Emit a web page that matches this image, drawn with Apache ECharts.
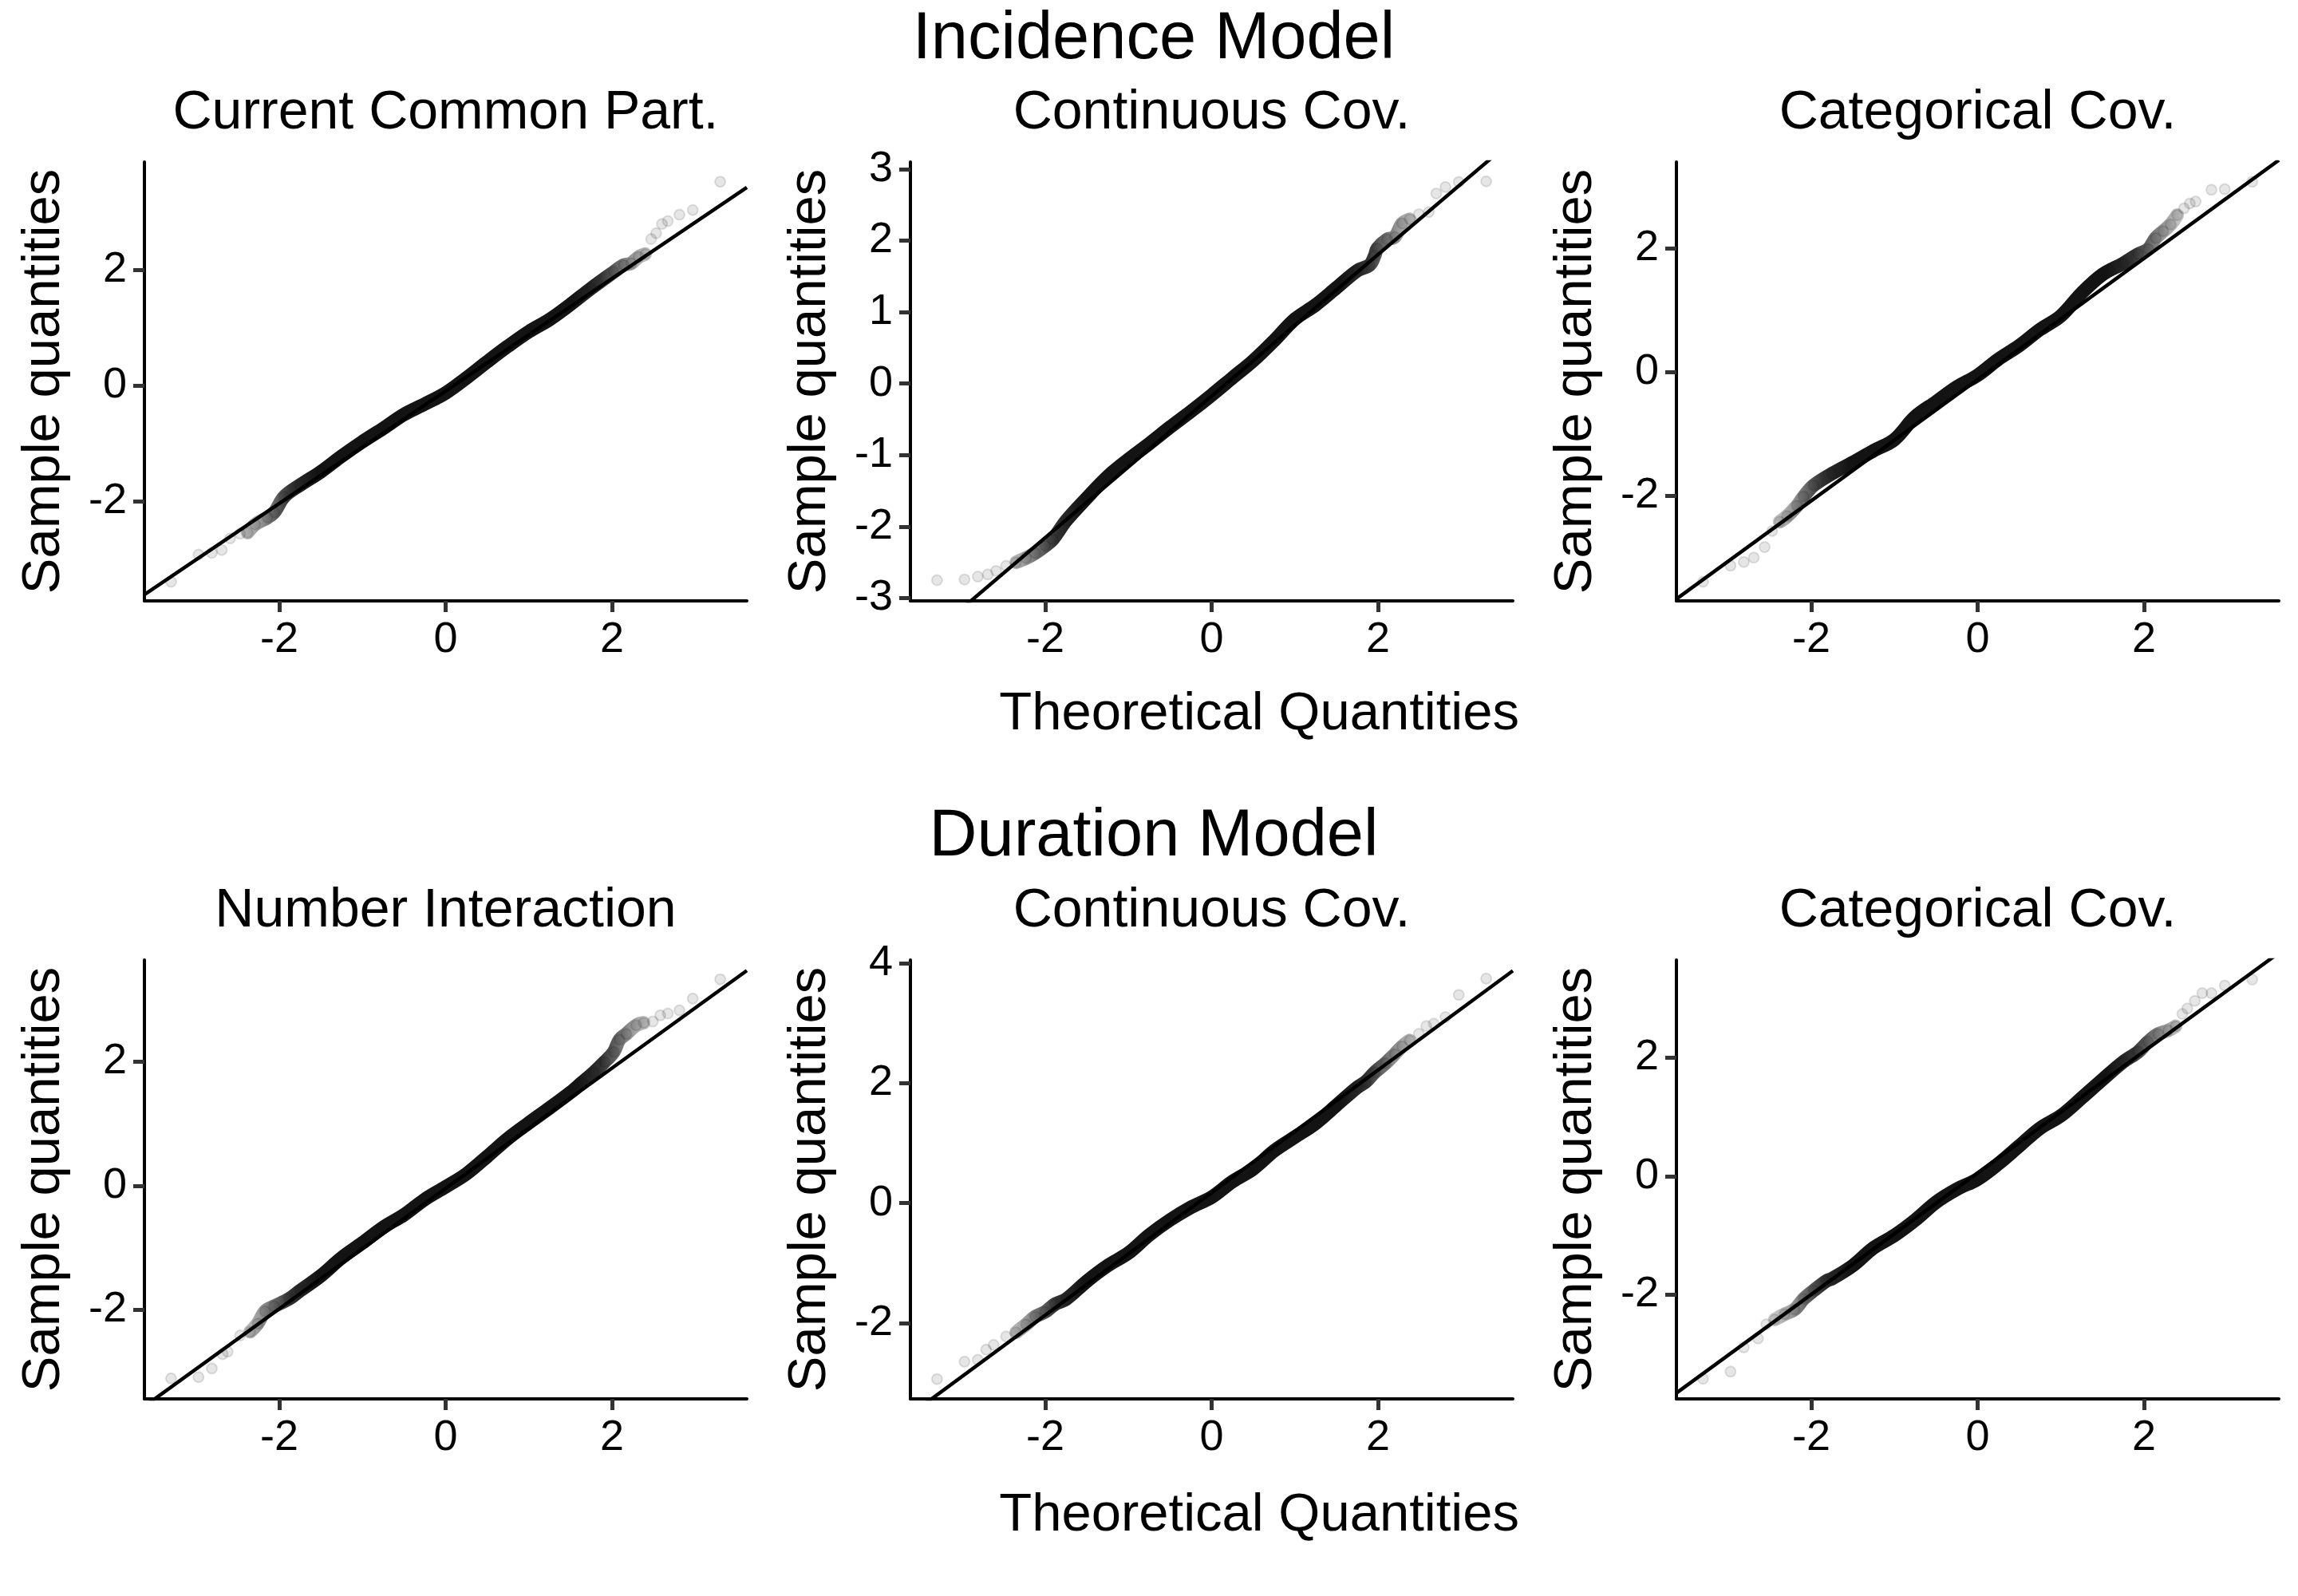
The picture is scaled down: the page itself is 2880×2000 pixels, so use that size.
<!DOCTYPE html>
<html>
<head>
<meta charset="utf-8">
<script src="https://cdn.jsdelivr.net/npm/echarts@6/dist/echarts.min.js"></script>
<style>
html,body{margin:0;padding:0;background:#fff;}
#chart{width:2880px;height:2000px;}
</style>
</head>
<body>
<div id="chart"></div>
<script>
// ---------- data ----------
const mainTitles = ['Incidence Model', 'Duration Model'];
const panelTitles = ['Current Common Part.', 'Continuous Cov.', 'Categorical Cov.',
                     'Number Interaction', 'Continuous Cov.', 'Categorical Cov.'];
const xTitle = 'Theoretical Quantities';
const yTitle = 'Sample quantities';
const xRange = [-3.62, 3.62];
const xTicks = [-2, 0, 2];

// Panel 1: Incidence / Current Common Part.
const p1x = [-3.30,-2.97,-2.81,-2.69,-2.59,-2.47,-2.38,-2.29,-2.14,-2.06,-1.94,-1.75,-1.5,-1.25,-1,-0.75,-0.5,-0.25,0,0.25,0.5,0.75,1,1.25,1.5,1.75,2.02,2.14,2.23,2.32,2.40,2.47,2.53,2.60,2.67,2.81,2.97,3.30];
const p1y = [-3.39,-2.92,-2.89,-2.84,-2.64,-2.56,-2.54,-2.40,-2.28,-2.19,-1.92,-1.72,-1.49,-1.22,-0.97,-0.74,-0.50,-0.32,-0.13,0.13,0.41,0.68,0.93,1.14,1.40,1.68,1.96,2.08,2.11,2.22,2.27,2.53,2.63,2.79,2.84,2.95,3.03,3.52];
const p1Line = [[-3.62,-3.61],[3.62,3.42]];
const p1YRange = [-3.72, 3.86];
const p1YTicks = [-2, 0, 2];

// Panel 2: Incidence / Continuous Cov.
const p2x = [-3.30,-2.97,-2.81,-2.69,-2.59,-2.47,-2.35,-2.23,-2.12,-2.0,-1.91,-1.75,-1.5,-1.25,-1,-0.75,-0.5,-0.25,0,0.25,0.5,0.75,1,1.25,1.5,1.75,1.90,1.96,1.99,2.11,2.20,2.29,2.38,2.49,2.61,2.70,2.81,2.97,3.30];
const p2y = [-2.75,-2.74,-2.70,-2.67,-2.62,-2.55,-2.50,-2.44,-2.37,-2.27,-2.18,-1.92,-1.60,-1.30,-1.06,-0.84,-0.61,-0.39,-0.16,0.08,0.32,0.60,0.90,1.10,1.34,1.58,1.66,1.79,1.89,2.02,2.05,2.24,2.30,2.37,2.40,2.66,2.75,2.82,2.83];
const p2Line = [[-3.62,-3.76],[3.62,3.41]];
const p2YRange = [-3.04, 3.10];
const p2YTicks = [-3, -2, -1, 0, 1, 2, 3];

// Panel 3: Incidence / Categorical Cov.
const p3x = [-3.30,-2.97,-2.81,-2.69,-2.56,-2.47,-2.38,-2.29,-2.17,-2.09,-1.97,-1.75,-1.5,-1.25,-1,-0.75,-0.5,-0.25,0,0.25,0.5,0.75,1,1.25,1.5,1.75,1.93,2.05,2.14,2.23,2.32,2.40,2.48,2.55,2.62,2.81,2.97,3.30];
const p3y = [-3.39,-3.13,-3.07,-3.00,-2.83,-2.57,-2.42,-2.33,-2.16,-2.01,-1.83,-1.64,-1.46,-1.27,-1.09,-0.72,-0.48,-0.24,-0.05,0.21,0.43,0.69,0.91,1.28,1.58,1.76,1.91,1.99,2.17,2.28,2.39,2.54,2.65,2.73,2.76,2.95,2.96,3.08];
const p3Line = [[-3.62,-3.67],[3.62,3.43]];
const p3YRange = [-3.70, 3.40];
const p3YTicks = [-2, 0, 2];

// Panel 4: Duration / Number Interaction
const p4x = [-3.30,-2.97,-2.81,-2.68,-2.62,-2.47,-2.35,-2.26,-2.17,-2.06,-1.88,-1.75,-1.5,-1.25,-1,-0.75,-0.5,-0.25,0,0.25,0.5,0.75,1,1.25,1.5,1.64,1.78,1.91,2.02,2.09,2.17,2.29,2.38,2.49,2.58,2.67,2.81,2.97,3.30];
const p4y = [-3.10,-3.08,-2.94,-2.71,-2.67,-2.41,-2.35,-2.22,-2.02,-1.94,-1.82,-1.69,-1.45,-1.16,-0.92,-0.67,-0.47,-0.22,-0.02,0.19,0.47,0.76,1.01,1.25,1.50,1.66,1.82,1.99,2.15,2.35,2.44,2.58,2.62,2.64,2.74,2.77,2.82,3.01,3.32];
const p4Line = [[-3.62,-3.55],[3.62,3.46]];
const p4YRange = [-3.43, 3.63];
const p4YTicks = [-2, 0, 2];

// Panel 5: Duration / Continuous Cov.
const p5x = [-3.30,-2.97,-2.81,-2.71,-2.62,-2.47,-2.35,-2.23,-2.12,-2.0,-1.88,-1.75,-1.5,-1.25,-1,-0.75,-0.5,-0.25,0,0.25,0.5,0.75,1,1.25,1.5,1.75,1.85,1.96,2.09,2.20,2.29,2.38,2.49,2.58,2.67,2.81,2.97,3.30];
const p5y = [-2.93,-2.64,-2.61,-2.44,-2.36,-2.22,-2.15,-2.02,-1.89,-1.81,-1.68,-1.60,-1.30,-1.04,-0.83,-0.53,-0.28,-0.07,0.10,0.36,0.57,0.87,1.10,1.33,1.63,1.93,2.02,2.18,2.33,2.48,2.61,2.71,2.82,2.95,2.99,3.10,3.47,3.74];
const p5Line = [[-3.62,-3.52],[3.62,3.87]];
const p5YRange = [-3.26, 4.05];
const p5YTicks = [-2, 0, 2, 4];

// Panel 6: Duration / Categorical Cov.
const p6x = [-3.30,-2.97,-2.81,-2.64,-2.54,-2.44,-2.32,-2.20,-2.09,-1.97,-1.82,-1.75,-1.5,-1.25,-1,-0.75,-0.5,-0.25,0,0.25,0.5,0.75,1,1.25,1.5,1.75,1.93,2.05,2.17,2.29,2.38,2.46,2.52,2.61,2.70,2.81,2.97,3.30];
const p6y = [-3.42,-3.30,-2.89,-2.74,-2.50,-2.42,-2.33,-2.25,-2.07,-1.93,-1.77,-1.73,-1.51,-1.21,-1.00,-0.74,-0.44,-0.22,-0.05,0.21,0.51,0.81,1.02,1.32,1.63,1.93,2.10,2.27,2.40,2.46,2.53,2.74,2.83,2.96,3.09,3.09,3.22,3.32];
const p6Line = [[-3.62,-3.66],[3.62,3.77]];
const p6YRange = [-3.76, 3.65];
const p6YTicks = [-2, 0, 2];

// ---------- layout / style ----------
const FONT = '"Liberation Sans", Arial, Helvetica, sans-serif';
const colLeft = [181, 1141, 2101];
const rowTop = [203, 1203];
const gridW = 755, gridH = 550;

const panels = [
  {x:p1x, y:p1y, line:p1Line, yr:p1YRange, yt:p1YTicks},
  {x:p2x, y:p2y, line:p2Line, yr:p2YRange, yt:p2YTicks},
  {x:p3x, y:p3y, line:p3Line, yr:p3YRange, yt:p3YTicks},
  {x:p4x, y:p4y, line:p4Line, yr:p4YRange, yt:p4YTicks},
  {x:p5x, y:p5y, line:p5Line, yr:p5YRange, yt:p5YTicks},
  {x:p6x, y:p6y, line:p6Line, yr:p6YRange, yt:p6YTicks}
];

// darkness of the overlapping-points band (style only)
const bandLimit = 2.45;
const alphaStops = [[2.45,0.14],[2.2,0.38],[2.0,0.62],[1.8,0.85],[1.5,0.97]];
function bandAlpha(x){
  const a = Math.abs(x);
  if (a >= alphaStops[0][0]) return alphaStops[0][1];
  for (let i = 0; i < alphaStops.length - 1; i++) {
    const [x0,a0] = alphaStops[i], [x1,a1] = alphaStops[i+1];
    if (a <= x0 && a >= x1) return a0 + (a1 - a0) * (x0 - a) / (x0 - x1);
  }
  return alphaStops[alphaStops.length-1][1];
}

const grids = [], xAxes = [], yAxes = [], series = [], graphics = [];

panels.forEach((p, i) => {
  const row = Math.floor(i / 3), col = i % 3;
  grids.push({left: colLeft[col], top: rowTop[row], width: gridW, height: gridH, containLabel: false});
  xAxes.push({
    gridIndex: i, type: 'value', min: xRange[0], max: xRange[1],
    splitLine: {show: false},
    axisLine: {show: true, onZero: false, lineStyle: {color: '#000', width: 4}},
    axisTick: {show: true, length: 14, customValues: xTicks, lineStyle: {color: '#333', width: 5}},
    axisLabel: {show: true, customValues: xTicks, fontSize: 54, color: '#000', fontFamily: FONT, margin: 22}
  });
  yAxes.push({
    gridIndex: i, type: 'value', min: p.yr[0], max: p.yr[1],
    name: yTitle, nameLocation: 'middle', nameRotate: 90, nameGap: 92,
    nameTextStyle: {fontSize: 67, color: '#000', fontFamily: FONT},
    splitLine: {show: false},
    axisLine: {show: true, onZero: false, lineStyle: {color: '#000', width: 4}},
    axisTick: {show: true, length: 14, customValues: p.yt, lineStyle: {color: '#333', width: 5}},
    axisLabel: {show: true, customValues: p.yt, fontSize: 54, color: '#000', fontFamily: FONT, margin: 22}
  });
  const pts = p.x.map((v, k) => [v, p.y[k]]);
  series.push({
    type: 'scatter', xAxisIndex: i, yAxisIndex: i, data: pts, symbolSize: 13, silent: true, z: 2,
    itemStyle: {color: 'rgba(0,0,0,0.12)', borderColor: 'rgba(0,0,0,0.14)', borderWidth: 2}
  });
  const band = pts.filter(d => Math.abs(d[0]) <= bandLimit);
  const bx0 = band[0][0], bx1 = band[band.length-1][0];
  const stopXs = [-2.45,-2.2,-2.0,-1.8,-1.5,1.5,1.8,2.0,2.2,2.45].filter(v => v >= bx0 && v <= bx1);
  if (stopXs[0] !== bx0) stopXs.unshift(bx0);
  if (stopXs[stopXs.length-1] !== bx1) stopXs.push(bx1);
  const stops = stopXs.map(v => ({offset: (v - bx0) / (bx1 - bx0), color: 'rgba(12,12,12,' + bandAlpha(v).toFixed(3) + ')'}));
  series.push({
    type: 'line', xAxisIndex: i, yAxisIndex: i, data: band, smooth: 0.35, showSymbol: false, silent: true, z: 3,
    lineStyle: {width: 17, cap: 'round', color: new echarts.graphic.LinearGradient(0, 0, 1, 0, stops)}
  });
  series.push({
    type: 'line', xAxisIndex: i, yAxisIndex: i, data: p.line, showSymbol: false, silent: true, z: 4, clip: true,
    lineStyle: {width: 4.5, color: '#000'}
  });
  graphics.push({
    type: 'text', x: colLeft[col] + gridW / 2, y: rowTop[row] - 61,
    style: {text: panelTitles[i], font: '68px ' + FONT, fill: '#000',
            textAlign: 'center', textVerticalAlign: 'middle', align: 'center', verticalAlign: 'middle'}
  });
});

graphics.push({type: 'text', x: 1446, y: 50,
  style: {text: mainTitles[0], font: '83px ' + FONT, fill: '#000', textAlign: 'center', textVerticalAlign: 'middle', align: 'center', verticalAlign: 'middle'}});
graphics.push({type: 'text', x: 1446, y: 1049,
  style: {text: mainTitles[1], font: '83px ' + FONT, fill: '#000', textAlign: 'center', textVerticalAlign: 'middle', align: 'center', verticalAlign: 'middle'}});
[896, 1900].forEach(yy => graphics.push({type: 'text', x: 1904, y: yy,
  style: {text: xTitle, font: '67px ' + FONT, fill: '#000', textAlign: 'right', textVerticalAlign: 'middle', align: 'right', verticalAlign: 'middle'}}));

const chart = echarts.init(document.getElementById('chart'), null, {renderer: 'canvas'});
chart.setOption({
  backgroundColor: '#fff',
  animation: false,
  grid: grids, xAxis: xAxes, yAxis: yAxes, series: series, graphic: graphics
});
</script>
</body>
</html>
